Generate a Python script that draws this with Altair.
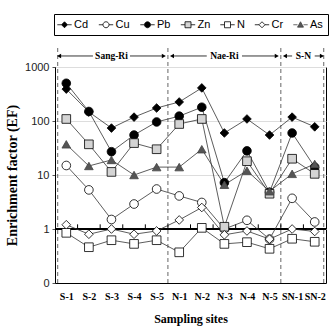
import json
import altair as alt
import pandas as pd

sites = ["S-1", "S-2", "S-3", "S-4", "S-5", "N-1", "N-2", "N-3", "N-4", "N-5", "SN-1", "SN-2"]
elements = ["Cd", "Cu", "Pb", "Zn", "N", "Cr", "As"]

cd = [390, 147, 74, 118, 174, 225, 410, 60, 109, 55, 118, 78]
cu = [15, 5.3, 1.5, 2.9, 5.5, 4.1, 3.1, 1.0, 1.45, 0.65, 3.7, 1.35]
pb = [500, 150, 27, 55, 96, 123, 180, 7.2, 28, 4.8, 60, 14]
zn = [109, 37, 11.4, 39, 30, 88, 109, 1.1, 18, 4.5, 20, 10.5]
n_ = [0.85, 0.46, 0.62, 0.53, 0.62, 0.37, 1.05, 0.53, 0.57, 0.43, 0.66, 0.58]
cr = [1.2, 0.8, 1.0, 0.8, 0.92, 1.47, 2.5, 0.78, 0.92, 0.65, 1.0, 0.9]
as_ = [37, 14.7, 19, 10, 14, 14, 30, 6.6, 12, 5, 10.5, 16]
series = {"Cd": cd, "Cu": cu, "Pb": pb, "Zn": zn, "N": n_, "Cr": cr, "As": as_}

groups = ["Sang-Ri", "Nae-Ri", "S-N"]
group_start = [0, 5, 10]
group_end = [5, 10, 12]
boundaries = [0.12, 5, 10, 11.9]
tick_marks = list(range(1, 12))

rows = []
for e in elements:
    for i, v in enumerate(series[e]):
        rows.append({"element": e, "site": sites[i], "pos": i + 0.5, "value": v})
df = pd.DataFrame(rows)

# styling
shapes = ["diamond", "circle", "circle", "square", "square", "diamond", "triangle-up"]
fills = ["black", "white", "black", "#d4d4d4", "white", "white", "#555555"]
strokes = ["black", "black", "black", "black", "black", "black", "#444444"]
tail = "M-2.4,0H-1M1,0H2.4"
legend_paths = [
    tail + "M0,-1L1,0L0,1L-1,0Z",
    tail + "M-1,0A1,1 0 1,0 1,0A1,1 0 1,0 -1,0Z",
    tail + "M-1,0A1,1 0 1,0 1,0A1,1 0 1,0 -1,0Z",
    tail + "M-1,-1H1V1H-1Z",
    tail + "M-1,-1H1V1H-1Z",
    tail + "M0,-1L1,0L0,1L-1,0Z",
    tail + "M0,-1L1,0.8H-1Z",
]

label_expr = json.dumps(sites) + "[floor(datum.value)]"
xscale = alt.Scale(domain=[0, 12], nice=False, zero=False)
yscale = alt.Scale(type="log", domain=[0.1, 1000], nice=False)

x_axis = alt.Axis(values=[i + 0.5 for i in range(12)], labelExpr=label_expr, grid=False,
                  ticks=False, labelOverlap=False, labelFont="Liberation Serif",
                  labelFontWeight="bold", labelFontSize=10, labelColor="black", labelPadding=8,
                  domainColor="black",
                  title="Sampling sites", titleFont="Liberation Serif", titleFontWeight="bold",
                  titleFontSize=12, titleColor="black", titlePadding=12)
y_axis = alt.Axis(values=[0.1, 1, 10, 100, 1000],
                  labelExpr="datum.value < 0.5 ? '0' : format(datum.value, 'd')",
                  grid=True, gridColor="#dddddd", ticks=True, tickSize=3, tickColor="#555",
                  labelOverlap=False, labelFont="Liberation Sans", labelFontSize=11,
                  labelColor="#222", labelPadding=3, domainColor="black",
                  title="Enrichment factor (EF)", titleFont="Liberation Serif",
                  titleFontWeight="bold", titleFontSize=14, titleColor="black", titlePadding=5)


def XF(field):
    return alt.X(field, scale=xscale, axis=x_axis)


def YF(field):
    return alt.Y(field, scale=yscale, axis=y_axis)


def XD(v):
    return alt.X(datum=v, scale=xscale, axis=x_axis)


def YD(v):
    return alt.Y(datum=v, scale=yscale, axis=y_axis)


base = alt.Chart(df)
lines = base.mark_line(color="#333333", strokeWidth=0.8).encode(
    x=XF("pos:Q"), y=YF("value:Q"), detail="element:N")
points = base.mark_point(opacity=1, size=75, strokeWidth=0.8).encode(
    x=XF("pos:Q"), y=YF("value:Q"),
    shape=alt.Shape("element:N", scale=alt.Scale(domain=elements, range=shapes), legend=None),
    fill=alt.Fill("element:N", scale=alt.Scale(domain=elements, range=fills), legend=None),
    stroke=alt.Stroke("element:N", scale=alt.Scale(domain=elements, range=strokes), legend=None),
)

legend = alt.Legend(
    title=None, orient="none", direction="horizontal", columns=7, legendX=-1, legendY=-53,
    strokeColor="black", padding=5, labelFont="Liberation Sans", labelFontSize=11,
    labelColor="black", labelOffset=4, columnPadding=7.5, symbolSize=36, symbolStrokeWidth=0.8,
    symbolOffset=0,
)
legend_layer = base.mark_point(opacity=1).encode(
    x=XF("pos:Q"), y=YF("value:Q"),
    shape=alt.Shape("element:N", scale=alt.Scale(domain=elements, range=legend_paths), legend=legend),
    fill=alt.Fill("element:N", scale=alt.Scale(domain=elements, range=fills), legend=legend),
    stroke=alt.Stroke("element:N", scale=alt.Scale(domain=elements, range=strokes), legend=legend),
).transform_filter("false")

bdf = pd.DataFrame({"b": boundaries})
dashed = alt.Chart(bdf).mark_rule(color="#666666", strokeWidth=1, strokeDash=[4, 3]).encode(
    x=XF("b:Q"), y=YD(0.1), y2=alt.datum(2300)
)

one_line = alt.Chart(bdf).mark_rule(color="black", strokeWidth=2).encode(
    x=XD(0), x2=alt.datum(12), y=YD(1)
)
tdf = pd.DataFrame({"t": tick_marks})
small_ticks = alt.Chart(tdf).mark_rule(color="black", strokeWidth=1).encode(
    x=XF("t:Q"), y=YD(1), y2=alt.datum(1.22)
)

gap = [0.82, 0.78, 0.5]
gdf = pd.DataFrame({"g": groups, "s": group_start, "e": group_end})
gdf["c"] = (gdf["s"] + gdf["e"]) / 2
gdf["gap"] = gap
seg = pd.concat([
    pd.DataFrame({"x1": gdf["s"] + 0.18, "x2": gdf["c"] - gdf["gap"], "end": gdf["s"] + 0.18, "dir": "l"}),
    pd.DataFrame({"x1": gdf["c"] + gdf["gap"], "x2": gdf["e"] - 0.18, "end": gdf["e"] - 0.18, "dir": "r"}),
])
arrow_lines = alt.Chart(seg).mark_rule(color="black", strokeWidth=0.8).encode(
    x=XF("x1:Q"), x2="x2:Q", y=YD(1600)
)
heads = alt.Chart(seg).mark_point(filled=True, opacity=1, color="black", size=22).encode(
    x=XF("end:Q"), y=YD(1600),
    shape=alt.Shape("dir:N", scale=alt.Scale(domain=["l", "r"], range=["triangle-left", "triangle-right"]), legend=None),
)
labels = alt.Chart(gdf).mark_text(font="Liberation Serif", fontWeight="bold", fontSize=9.5,
                                  color="black", baseline="middle").encode(
    x=XF("c:Q"), y=YD(1600), text="g:N"
)

chart = alt.layer(
    dashed, one_line, small_ticks, lines, points, legend_layer, arrow_lines, heads, labels
).resolve_scale(shape="independent", fill="independent", stroke="independent").properties(
    width=271, height=216,
    autosize=alt.AutoSizeParams(type="none"),
    padding={"left": 55, "top": 67, "right": 8, "bottom": 46},
).configure_view(stroke="black", strokeWidth=1)

chart.save("out.html", embed_options={"renderer": "svg", "actions": False})
